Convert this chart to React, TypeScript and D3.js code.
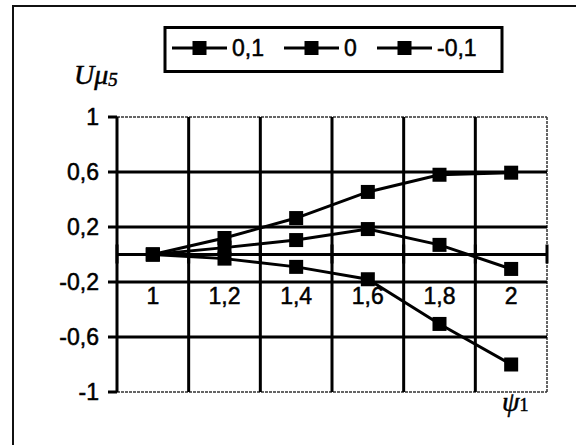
import React from "react";
import * as d3 from "d3";

const categories = ["1", "1,2", "1,4", "1,6", "1,8", "2"];
const seriesNames = ["0,1", "0", "-0,1"];
const seriesTop = [0, 0.12, 0.265, 0.455, 0.58, 0.595];
const seriesMid = [0, 0.05, 0.105, 0.185, 0.07, -0.105];
const seriesLow = [0, -0.03, -0.09, -0.18, -0.505, -0.8];
const yTicks = [-1, -0.6, -0.2, 0.2, 0.6, 1];

const W = 576;
const H = 445;
const left = 117;
const right = 547;
const top = 117;
const bottom = 392;

const sans = "'Liberation Sans', Arial, sans-serif";
const serif = "'Liberation Serif', 'Times New Roman', serif";

export default function App() {
  const x = d3.scaleBand<string>().domain(categories).range([left, right]);
  const y = d3.scaleLinear().domain([-1, 1]).range([bottom, top]);
  const fmt = (v: number) => String(v).replace(".", ",");
  const all = [seriesTop, seriesMid, seriesLow];
  const line = d3
    .line<number>()
    .x((_, i) => (x(categories[i]) as number) + x.bandwidth() / 2)
    .y((v) => y(v));
  const boundaries = d3.range(categories.length + 1).map((i) => left + i * x.bandwidth());
  const y0 = y(0);
  const ms = 14;

  // legend layout
  const legendTextWidths = [32, 13, 40];
  const lineLen = 55;
  let cursor = 172;
  const legendItems = seriesNames.map((n, i) => {
    const item = { name: n, x: cursor };
    cursor += lineLen + 5 + legendTextWidths[i] + 20;
    return item;
  });
  const legendY = 48;
  const textStroke = { stroke: "#000", strokeWidth: 0.5 };

  return (
    <svg
      width={W}
      height={H}
      style={{ position: "absolute", left: 0, top: 0, background: "#fff" }}
    >
      <rect x={0} y={0} width={W} height={H} fill="#fff" />
      {/* outer frame */}
      <path d={`M13,${H} L13,6 L${W},6`} fill="none" stroke="#111" strokeWidth={2} />

      {/* legend */}
      <rect x={165} y={27.5} width={337} height={44} fill="#fff" stroke="#000" strokeWidth={3} />
      {legendItems.map((it) => (
        <g key={it.name}>
          <line x1={it.x} x2={it.x + lineLen} y1={legendY} y2={legendY} stroke="#000" strokeWidth={3} />
          <rect x={it.x + lineLen / 2 - 7} y={legendY - 7} width={14} height={14} fill="#000" />
          <text x={it.x + lineLen + 5} y={legendY} dy="0.36em" fontFamily={sans} fontSize={23} fill="#000" {...textStroke}>
            {it.name}
          </text>
        </g>
      ))}

      {/* y title */}
      <text x={74} y={84} fontFamily={serif} fontStyle="italic" fontSize={28} fill="#000" {...textStroke}>
        <tspan>U</tspan>
        <tspan>μ</tspan>
        <tspan fontSize={19} dy={2}>5</tspan>
      </text>

      {/* borders top/bottom/right */}
      <line x1={left} x2={right} y1={top} y2={top} stroke="#333" strokeWidth={1.5} strokeDasharray="3,1" />
      <line x1={left} x2={right} y1={bottom} y2={bottom} stroke="#333" strokeWidth={1.5} strokeDasharray="3,1" />
      <line x1={right} x2={right} y1={top} y2={bottom} stroke="#333" strokeWidth={1.5} strokeDasharray="3,1" />

      {/* horizontal gridlines */}
      {yTicks.map((v) => (
        <g key={v}>
          {Math.abs(v) < 1 ? (
            <line x1={108} x2={right} y1={y(v)} y2={y(v)} stroke="#000" strokeWidth={3} />
          ) : (
            <line x1={108} x2={left} y1={y(v)} y2={y(v)} stroke="#000" strokeWidth={3} />
          )}
          <text
            x={99}
            y={y(v)}
            dy="0.36em"
            textAnchor="end"
            fontFamily={sans}
            fontSize={23}
            fill="#000"
            {...textStroke}
          >
            {fmt(v)}
          </text>
        </g>
      ))}

      {/* vertical gridlines */}
      {boundaries.slice(0, -1).map((bx, i) => (
        <line key={i} x1={bx} x2={bx} y1={top} y2={bottom} stroke="#000" strokeWidth={3} />
      ))}

      {/* x axis at zero */}
      <line x1={left} x2={right} y1={y0} y2={y0} stroke="#000" strokeWidth={3} />
      {boundaries.map((bx, i) => (
        <line key={"t" + i} x1={bx} x2={bx} y1={y0 - 10} y2={y0 + 9} stroke="#000" strokeWidth={3} />
      ))}
      {categories.map((c) => (
        <text
          key={c}
          x={(x(c) as number) + x.bandwidth() / 2}
          y={304}
          textAnchor="middle"
          fontFamily={sans}
          fontSize={23}
          fill="#000"
          {...textStroke}
        >
          {c}
        </text>
      ))}

      {/* series */}
      {all.map((s, si) => (
        <g key={si}>
          <path d={line(s) as string} fill="none" stroke="#000" strokeWidth={3} />
          {s.map((v, i) => (
            <rect
              key={i}
              x={(x(categories[i]) as number) + x.bandwidth() / 2 - ms / 2}
              y={y(v) - ms / 2}
              width={ms}
              height={ms}
              fill="#000"
            />
          ))}
        </g>
      ))}

      {/* x title */}
      <text x={502} y={411} fontFamily={serif} fontStyle="italic" fontSize={28} fill="#000" {...textStroke}>
        <tspan>ψ</tspan>
        <tspan fontStyle="normal" fontSize={18}>1</tspan>
      </text>
    </svg>
  );
}
